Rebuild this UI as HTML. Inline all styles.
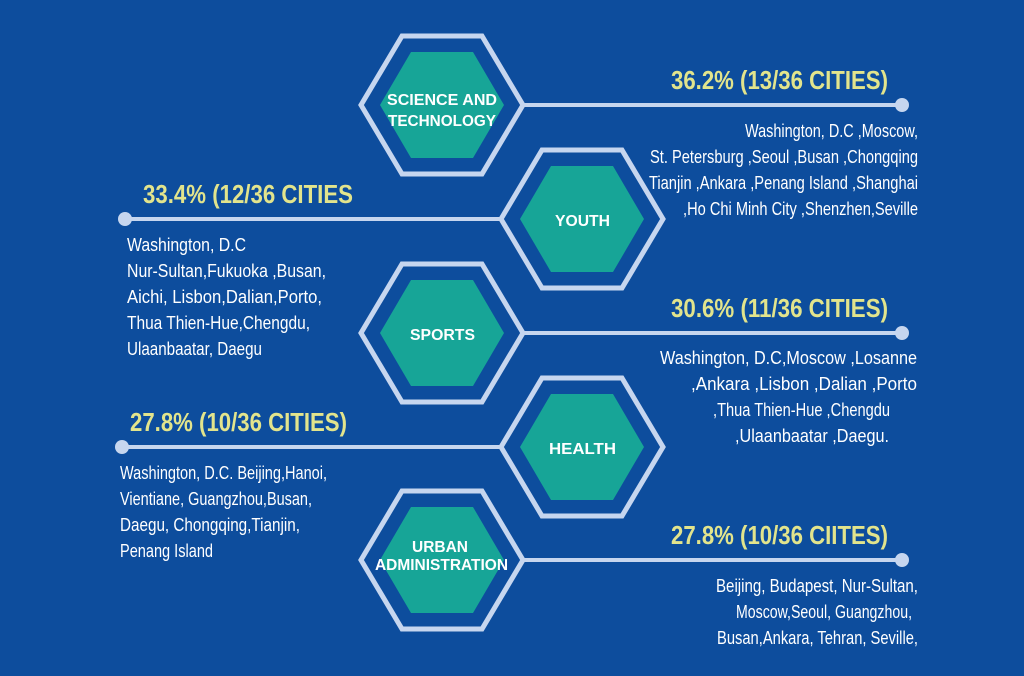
<!DOCTYPE html>
<html><head><meta charset="utf-8"><style>
html,body{margin:0;padding:0;background:#0d4d9d;}
svg{display:block}
.h{font-family:"Liberation Sans",sans-serif;font-weight:bold;font-size:26px;fill:#e2e48c}
.t{font-family:"Liberation Sans",sans-serif;font-size:18px;fill:#fff}
.l{font-family:"Liberation Sans","DejaVu Sans",sans-serif;font-weight:900;font-size:16px;fill:#fff}
</style></head><body>
<svg width="1024" height="676" viewBox="0 0 1024 676" xmlns="http://www.w3.org/2000/svg">
<rect width="1024" height="676" fill="#0d4d9d"/>
<defs>
<g id="hx">
<polygon points="-81,0 -40,-69 40,-69 81,0 40,69 -40,69" fill="none" stroke="#c6d6ef" stroke-width="5"/>
<polygon points="-62,0 -31,-53 31,-53 62,0 31,53 -31,53" fill="#17a597"/>
</g>
</defs>
<g stroke="#c6d6ef" stroke-width="4">
<line x1="523" y1="105" x2="902" y2="105"/>
<line x1="125" y1="219" x2="502" y2="219"/>
<line x1="523" y1="333" x2="902" y2="333"/>
<line x1="122" y1="447" x2="502" y2="447"/>
<line x1="523" y1="560" x2="902" y2="560"/>
</g>
<g fill="#c6d6ef">
<circle cx="902" cy="105" r="7"/><circle cx="125" cy="219" r="7"/><circle cx="902" cy="333" r="7"/><circle cx="122" cy="447" r="7"/><circle cx="902" cy="560" r="7"/>
</g>
<use href="#hx" x="442" y="105"/>
<use href="#hx" x="582" y="219"/>
<use href="#hx" x="442" y="333"/>
<use href="#hx" x="582" y="447"/>
<use href="#hx" x="442" y="560"/>
<g class="l">
<text x="387" y="105" textLength="110" lengthAdjust="spacingAndGlyphs">SCIENCE AND</text>
<text x="388" y="126" textLength="108" lengthAdjust="spacingAndGlyphs">TECHNOLOGY</text>
<text x="555" y="226" textLength="55" lengthAdjust="spacingAndGlyphs">YOUTH</text>
<text x="410" y="340" textLength="65" lengthAdjust="spacingAndGlyphs">SPORTS</text>
<text x="549" y="454" textLength="67" lengthAdjust="spacingAndGlyphs">HEALTH</text>
<text x="412" y="552" textLength="56" lengthAdjust="spacingAndGlyphs">URBAN</text>
<text x="375" y="570" textLength="133" lengthAdjust="spacingAndGlyphs">ADMINISTRATION</text>
</g>

<text class="h" x="671" y="89" textLength="217" lengthAdjust="spacingAndGlyphs">36.2% (13/36 CITIES)</text>
<g class="t">
<text x="745" y="137" textLength="173" lengthAdjust="spacingAndGlyphs">Washington, D.C ,Moscow,</text>
<text x="650" y="163" textLength="268" lengthAdjust="spacingAndGlyphs">St. Petersburg ,Seoul ,Busan ,Chongqing</text>
<text x="649" y="189" textLength="269" lengthAdjust="spacingAndGlyphs">Tianjin ,Ankara ,Penang Island ,Shanghai</text>
<text x="683" y="215" textLength="235" lengthAdjust="spacingAndGlyphs">,Ho Chi Minh City ,Shenzhen,Seville</text>
</g>

<text class="h" x="143" y="203" textLength="210" lengthAdjust="spacingAndGlyphs">33.4% (12/36 CITIES</text>
<g class="t">
<text x="127" y="251" textLength="119" lengthAdjust="spacingAndGlyphs">Washington, D.C</text>
<text x="127" y="277" textLength="199" lengthAdjust="spacingAndGlyphs">Nur-Sultan,Fukuoka ,Busan,</text>
<text x="127" y="303" textLength="195" lengthAdjust="spacingAndGlyphs">Aichi, Lisbon,Dalian,Porto,</text>
<text x="127" y="329" textLength="183" lengthAdjust="spacingAndGlyphs">Thua Thien-Hue,Chengdu,</text>
<text x="127" y="355" textLength="135" lengthAdjust="spacingAndGlyphs">Ulaanbaatar, Daegu</text>
</g>

<text class="h" x="671" y="317" textLength="217" lengthAdjust="spacingAndGlyphs">30.6% (11/36 CITIES)</text>
<g class="t">
<text x="660" y="364" textLength="257" lengthAdjust="spacingAndGlyphs">Washington, D.C,Moscow ,Losanne</text>
<text x="691" y="390" textLength="226" lengthAdjust="spacingAndGlyphs">,Ankara ,Lisbon ,Dalian ,Porto</text>
<text x="713" y="416" textLength="177" lengthAdjust="spacingAndGlyphs">,Thua Thien-Hue ,Chengdu</text>
<text x="735" y="442" textLength="154" lengthAdjust="spacingAndGlyphs">,Ulaanbaatar ,Daegu.</text>
</g>

<text class="h" x="130" y="431" textLength="217" lengthAdjust="spacingAndGlyphs">27.8% (10/36 CITIES)</text>
<g class="t">
<text x="120" y="479" textLength="207" lengthAdjust="spacingAndGlyphs">Washington, D.C. Beijing,Hanoi,</text>
<text x="120" y="505" textLength="192" lengthAdjust="spacingAndGlyphs">Vientiane, Guangzhou,Busan,</text>
<text x="120" y="531" textLength="180" lengthAdjust="spacingAndGlyphs">Daegu, Chongqing,Tianjin,</text>
<text x="120" y="557" textLength="93" lengthAdjust="spacingAndGlyphs">Penang Island</text>
</g>

<text class="h" x="671" y="544" textLength="217" lengthAdjust="spacingAndGlyphs">27.8% (10/36 CIITES)</text>
<g class="t">
<text x="716" y="592" textLength="202" lengthAdjust="spacingAndGlyphs">Beijing, Budapest, Nur-Sultan,</text>
<text x="736" y="618" textLength="176" lengthAdjust="spacingAndGlyphs">Moscow,Seoul, Guangzhou,</text>
<text x="717" y="644" textLength="201" lengthAdjust="spacingAndGlyphs">Busan,Ankara, Tehran, Seville,</text>
</g>
</svg>
</body></html>
